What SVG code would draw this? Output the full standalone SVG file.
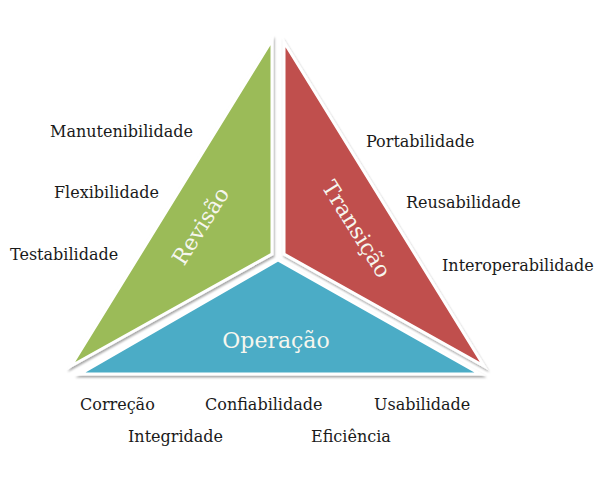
<svg xmlns="http://www.w3.org/2000/svg" width="605" height="484" viewBox="0 0 605 484">
<defs>
<filter id="sh" x="-10%" y="-10%" width="120%" height="120%">
<feDropShadow dx="1" dy="2" stdDeviation="1.2" flood-color="#000" flood-opacity="0.35"/>
</filter>
</defs>
<style>
.tri{stroke:#fff;stroke-width:3;stroke-linejoin:miter;filter:url(#sh)}
.in{font-family:"DejaVu Serif","Liberation Serif",serif;font-size:22px;fill:#f6f6ee;text-anchor:middle}
.lb{font-family:"DejaVu Serif","Liberation Serif",serif;font-size:16px;fill:#1a1a1a}
</style>
<rect width="605" height="484" fill="#fff"/>
<g id="revisao">
<polygon class="tri" points="272,40 272,254 71,366" fill="#9BBB59"/>
<text class="in" transform="translate(207,230) rotate(-58)">Revisão</text>
</g>
<g id="transicao">
<polygon class="tri" points="284,42 284,254 484,366" fill="#C0504D"/>
<text class="in" transform="translate(350,233) rotate(58)">Transição</text>
</g>
<g id="operacao">
<polygon class="tri" points="278,260 80,374 480,374" fill="#4BACC6"/>
<text class="in" x="276" y="348">Operação</text>
</g>
<g id="labels-revisao">
<text class="lb" x="50" y="137">Manutenibilidade</text>
<text class="lb" x="54" y="198">Flexibilidade</text>
<text class="lb" x="10" y="260">Testabilidade</text>
</g>
<g id="labels-transicao">
<text class="lb" x="366" y="147">Portabilidade</text>
<text class="lb" x="406" y="208">Reusabilidade</text>
<text class="lb" x="442" y="271">Interoperabilidade</text>
</g>
<g id="labels-operacao">
<text class="lb" x="80" y="410">Correção</text>
<text class="lb" x="205" y="410">Confiabilidade</text>
<text class="lb" x="374" y="410">Usabilidade</text>
<text class="lb" x="128" y="442">Integridade</text>
<text class="lb" x="311" y="442">Eficiência</text>
</g>
<g id="connectors"/>
</svg>
